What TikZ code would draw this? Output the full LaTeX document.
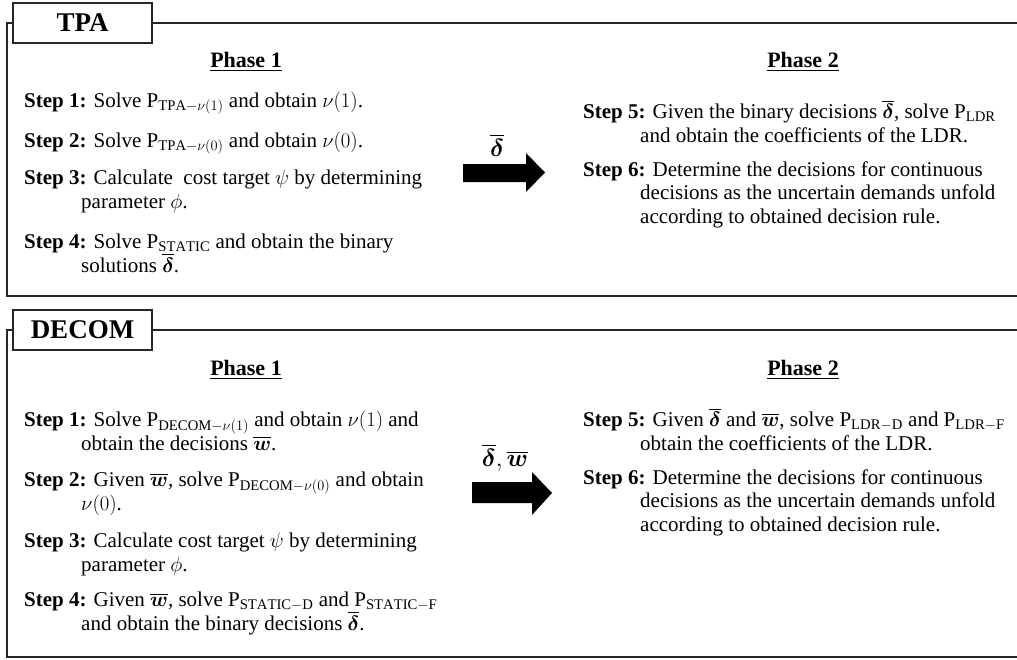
\documentclass[tikz,border=0pt]{standalone}
\usepackage{amsmath}
\usepackage{fontspec}
\setmainfont{Liberation Serif}
\tikzset{
  frameline/.style={draw=black!85,line width=1.1pt},
  titlebox/.style={draw=black!85,line width=1.1pt,minimum width=139pt,
    minimum height=40pt,inner sep=0pt,font=\fontsize{27}{30}\selectfont\bfseries},
  phasehead/.style={anchor=base,inner sep=0pt,font=\fontsize{22}{26}\selectfont\bfseries},
  steptext/.style={anchor=base west,inner sep=0pt,align=left,
    font=\fontsize{21}{23.5}\selectfont},
  blockarrow/.style={fill=black},
  arrowlabel/.style={inner sep=0pt,font=\fontsize{24}{28}\selectfont}}
\newcommand\stp[1]{\textbf{Step #1:}}
\newcommand\contind{\hspace*{57pt}}
\newcommand\bdelta{\overline{\boldsymbol{\delta}}}
\newcommand\bw{\overline{\boldsymbol{w}}}
\begin{document}
\begin{tikzpicture}[x=1pt,y=-1pt]
\useasboundingbox (0,0) rectangle (1017,659);
% TPA panel (node y = baseline of the last line)
\node[titlebox] (tpa) at (82.5,23) {TPA};
\draw[frameline] (tpa.west) -- (7,23) -- (7,296) -- (1017,296);
\draw[frameline] (tpa.east) -- (1017,23);
\node[phasehead] (tpaph1) at (246,67) {\underline{Phase 1}};
\node[phasehead] (tpaph2) at (803,67) {\underline{Phase 2}};
\node[steptext] (tpas1) at (24,107) {\stp{1} Solve P$_{\mathrm{TPA}-\nu(1)}$ and obtain $\nu(1)$.};
\node[steptext] (tpas2) at (24,147) {\stp{2} Solve P$_{\mathrm{TPA}-\nu(0)}$ and obtain $\nu(0)$.};
\node[steptext] (tpas3) at (24,208) {\stp{3} Calculate \ cost target $\psi$ by determining\\
  \contind parameter $\phi$.};
\node[steptext] (tpas4) at (24,272) {\stp{4} Solve P$_{\mathrm{STATIC}}$ and obtain the binary\\
  \contind solutions $\bdelta$.};
\fill[blockarrow] (463,164) -- (526,164) -- (526,153) -- (545,172.5) -- (526,192)
  -- (526,182) -- (463,182) -- cycle;
\node[arrowlabel] (tpalab) at (497,145) {$\bdelta$};
\node[steptext] (tpas5) at (583,142) {\stp{5} Given the binary decisions $\bdelta$, solve P$_{\mathrm{LDR}}$\\
  \contind and obtain the coefficients of the LDR.};
\node[steptext] (tpas6) at (583,223) {\stp{6} Determine the decisions for continuous\\
  \contind decisions as the uncertain demands unfold\\
  \contind according to obtained decision rule.};
% DECOM panel
\node[titlebox] (decom) at (82.5,330) {DECOM};
\draw[frameline] (decom.west) -- (7,330) -- (7,657) -- (1017,657);
\draw[frameline] (decom.east) -- (1017,330);
\node[phasehead] (decph1) at (246,375) {\underline{Phase 1}};
\node[phasehead] (decph2) at (803,375) {\underline{Phase 2}};
\node[steptext] (decs1) at (24,450) {\stp{1} Solve P$_{\mathrm{DECOM}-\nu(1)}$ and obtain $\nu(1)$ and\\
  \contind obtain the decisions $\bw$.};
\node[steptext] (decs2) at (24,510) {\stp{2} Given $\bw$, solve P$_{\mathrm{DECOM}-\nu(0)}$ and obtain\\
  \contind $\nu(0)$.};
\node[steptext] (decs3) at (24,571) {\stp{3} Calculate cost target $\psi$ by determining\\
  \contind parameter $\phi$.};
\node[steptext] (decs4) at (24,630) {\stp{4} Given $\bw$, solve P$_{\mathrm{STATIC}-\mathrm{D}}$ and P$_{\mathrm{STATIC}-\mathrm{F}}$\\
  \contind and obtain the binary decisions $\bdelta$.};
\fill[blockarrow] (472,482) -- (532,482) -- (532,472) -- (552,493) -- (532,515)
  -- (532,503) -- (472,503) -- cycle;
\node[arrowlabel] (declab) at (505,458) {$\bdelta,\bw$};
\node[steptext] (decs5) at (583,450) {\stp{5} Given $\bdelta$ and $\bw$, solve P$_{\mathrm{LDR}-\mathrm{D}}$ and P$_{\mathrm{LDR}-\mathrm{F}}$\\
  \contind obtain the coefficients of the LDR.};
\node[steptext] (decs6) at (583,531) {\stp{6} Determine the decisions for continuous\\
  \contind decisions as the uncertain demands unfold\\
  \contind according to obtained decision rule.};
\end{tikzpicture}
\end{document}
